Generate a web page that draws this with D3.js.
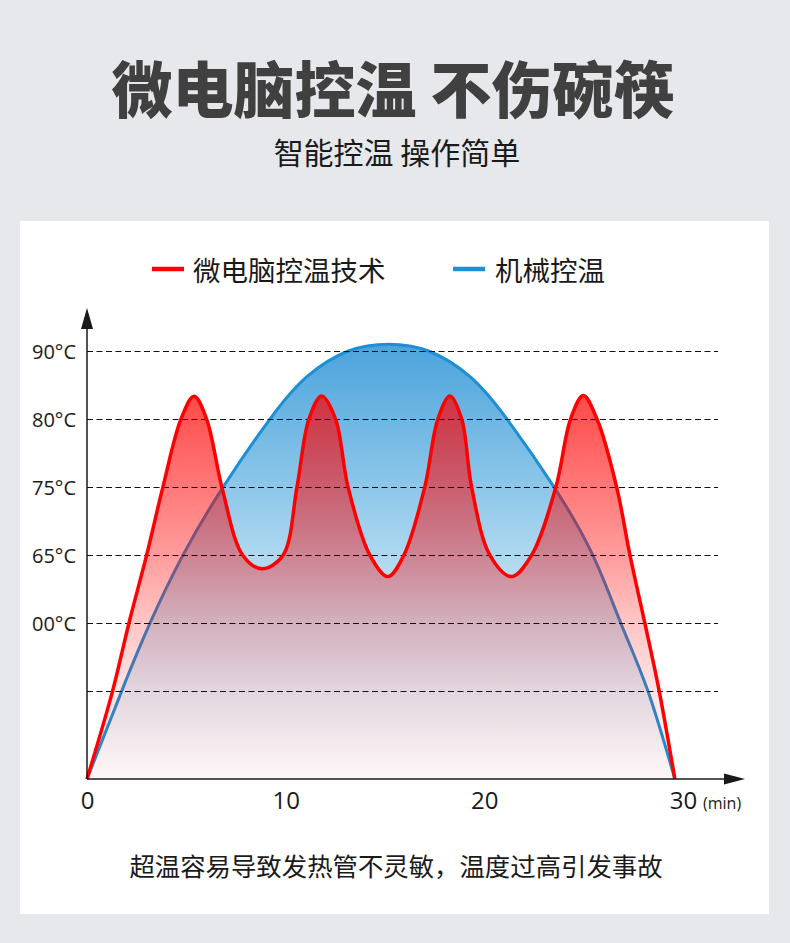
<!DOCTYPE html>
<html>
<head>
<meta charset="utf-8">
<script src="https://cdn.jsdelivr.net/npm/d3@7"></script>
<style>
    html, body { margin: 0; padding: 0; background: #e6e8eb; }
    svg { display: block; }
</style>
</head>
<body>
<div id="plotRegi"></div>
<script>
/* Data */
const xTicks = [0, 10, 20, 30]
const gridValues = [100, 84.1, 68.2, 52.3, 36.4, 20.6]
const gridLabels = ["90°C", "80°C", "75°C", "65°C", "00°C", ""]

// 微电脑控温技术 (red)
const microTime = [0, 1.29, 2.11, 3.0, 3.82, 4.73, 5.39, 6.02, 6.79, 7.84, 8.81, 9.87, 10.57, 11.17, 11.81, 12.51, 13.14, 14.24, 15.15, 15.95, 17.0, 17.66, 18.27, 18.86, 19.36, 20.28, 21.37, 22.38, 23.6, 24.34, 24.98, 25.67, 26.66, 27.33, 28.08, 28.8, 29.59]
const microTemp = [0, 20.6, 36.4, 52.3, 68.2, 84.1, 89.4, 84.1, 68.2, 52.3, 49.1, 52.3, 68.2, 84.1, 89.5, 84.1, 68.2, 52.3, 47.3, 52.3, 68.2, 84.1, 89.5, 84.1, 68.2, 52.3, 47.3, 52.3, 68.2, 84.1, 89.6, 84.1, 68.2, 52.3, 36.4, 20.6, 0]

// 机械控温 (blue)
const mechTime = [0, 1.75, 3.17, 4.83, 6.85, 9.21, 11.07, 13.16, 15.18, 17.19, 19.28, 21.14, 23.51, 25.46, 26.87, 28.23, 29.59]
const mechTemp = [0, 20.6, 36.4, 52.3, 68.2, 84.1, 94.0, 100, 101.6, 100, 94.0, 84.1, 68.2, 52.3, 36.4, 20.6, 0]

const seriesNames = ["微电脑控温技术", "机械控温"]
const seriesColors = ["#ff0000", "#1e8fd5"]

const title = "微电脑控温 不伤碗筷"
const subtitle = "智能控温 操作简单"
const note = "超温容易导致发热管不灵敏，温度过高引发事故"

/* Setup */
const W = 790, H = 943
const cjk = "'Noto Sans CJK SC', 'Noto Sans', sans-serif"
const latin = "'Open Sans', 'Noto Sans', sans-serif"

const svg = d3.select("#plotRegi").append("svg")
    .attr("width", W)
    .attr("height", H)

svg.append("rect").attr("width", W).attr("height", H).attr("fill", "#e6e8eb")
svg.append("rect")
    .attr("x", 20).attr("y", 221)
    .attr("width", 749).attr("height", 693)
    .attr("fill", "#ffffff")

// Titles
svg.append("text")
    .attr("x", 393).attr("y", 86)
    .attr("text-anchor", "middle")
    .attr("dominant-baseline", "central")
    .style("font-family", cjk)
    .style("font-weight", 900)
    .style("font-size", "61px")
    .style("fill", "#404040")
    .text(title)

svg.append("text")
    .attr("x", 397).attr("y", 151)
    .attr("text-anchor", "middle")
    .attr("dominant-baseline", "central")
    .style("font-family", cjk)
    .style("font-size", "30px")
    .style("fill", "#1a1a1a")
    .text(subtitle)

// Scales
const scale_x = d3.scaleLinear().domain([0, 30]).range([87, 683])
const scale_y = d3.scaleLinear().domain([0, 100]).range([779, 351])

const micro = microTime.map((t, i) => ({ t: t, v: microTemp[i] }))
const mech = mechTime.map((t, i) => ({ t: t, v: mechTemp[i] }))

// Gradients
const defs = svg.append("defs")

const gBlue = defs.append("linearGradient")
    .attr("id", "gBlue")
    .attr("gradientUnits", "userSpaceOnUse")
    .attr("x1", 0).attr("x2", 0)
    .attr("y1", scale_y(102)).attr("y2", scale_y(0))
gBlue.append("stop").attr("offset", 0).attr("stop-color", "#4aa3dc")
gBlue.append("stop").attr("offset", 0.5).attr("stop-color", "#b0d9f0")
gBlue.append("stop").attr("offset", 1).attr("stop-color", "#ffffff")

const gRed = defs.append("linearGradient")
    .attr("id", "gRed")
    .attr("gradientUnits", "userSpaceOnUse")
    .attr("x1", 0).attr("x2", 0)
    .attr("y1", scale_y(90)).attr("y2", scale_y(0))
;[[0, 0.72], [0.43, 0.38], [0.59, 0.23], [0.77, 0.11], [1, 0.03]].forEach(s => {
    gRed.append("stop").attr("offset", s[0])
        .attr("stop-color", "#ff0000").attr("stop-opacity", s[1])
})

function makeArea(curve) {
    return d3.area()
        .x(d => scale_x(d.t))
        .y0(scale_y(0))
        .y1(d => scale_y(d.v))
        .curve(curve)
}
function makeLine(curve) {
    return d3.line()
        .x(d => scale_x(d.t))
        .y(d => scale_y(d.v))
        .curve(curve)
}
const redCurve = d3.curveCatmullRom.alpha(0.5)
const blueCurve = d3.curveNatural

// Blue area + line
svg.append("path").datum(mech).attr("d", makeArea(blueCurve)).attr("fill", "url(#gBlue)")
svg.append("path").datum(mech).attr("d", makeLine(blueCurve))
    .attr("fill", "none")
    .attr("stroke", seriesColors[1])
    .attr("stroke-width", 3)

// Red area
svg.append("path").datum(micro).attr("d", makeArea(redCurve)).attr("fill", "url(#gRed)")

// Grid
svg.append("g").selectAll("line")
    .data(gridValues)
    .enter()
    .append("line")
    .attr("x1", scale_x(0)).attr("x2", 718)
    .attr("y1", d => Math.round(scale_y(d)) + 0.5).attr("y2", d => Math.round(scale_y(d)) + 0.5)
    .attr("stroke", "#111")
    .attr("stroke-width", 1)
    .attr("stroke-dasharray", "6,3.5")

// Red line
svg.append("path").datum(micro).attr("d", makeLine(redCurve))
    .attr("fill", "none")
    .attr("stroke", seriesColors[0])
    .attr("stroke-width", 3.5)
    .attr("stroke-linejoin", "round")

// Axes
const axisY = svg.append("g")
    .attr("transform", "translate(" + (scale_x(0) - 11) + ",0)")
    .call(d3.axisLeft(scale_y).tickValues(gridValues).tickSize(0).tickPadding(0)
        .tickFormat((d, i) => gridLabels[i]))
axisY.select(".domain").remove()
axisY.selectAll("text")
    .attr("dy", "0.35em")
    .style("font-family", latin)
    .style("font-size", "20px")
    .style("fill", "#1a1a1a")

const axisX = svg.append("g")
    .attr("transform", "translate(0," + scale_y(0) + ")")
    .call(d3.axisBottom(scale_x).tickValues(xTicks).tickSize(0).tickPadding(0))
axisX.select(".domain").remove()
axisX.selectAll("text")
    .attr("y", 22)
    .attr("dy", "0.35em")
    .style("font-family", latin)
    .style("font-size", "24px")
    .style("fill", "#1a1a1a")

svg.append("text")
    .attr("x", 703).attr("y", 803)
    .attr("dominant-baseline", "central")
    .style("font-family", latin)
    .style("font-size", "16px")
    .style("fill", "#1a1a1a")
    .text("(min)")

svg.append("line")
    .attr("x1", scale_x(0)).attr("x2", scale_x(0))
    .attr("y1", scale_y(0)).attr("y2", 322)
    .attr("stroke", "#1a1a1a").attr("stroke-width", 1.5)
svg.append("path")
    .attr("d", "M87,308L81,329L93,329Z")
    .attr("fill", "#1a1a1a")

svg.append("line")
    .attr("x1", scale_x(0)).attr("x2", 730)
    .attr("y1", scale_y(0)).attr("y2", scale_y(0))
    .attr("stroke", "#1a1a1a").attr("stroke-width", 1.5)
svg.append("path")
    .attr("d", "M745,779L724,773.5L724,784.5Z")
    .attr("fill", "#1a1a1a")

// Legend
const legendX = [[152, 193], [453, 495]]
const legend = svg.append("g")
seriesNames.forEach((name, i) => {
    legend.append("line")
        .attr("x1", legendX[i][0]).attr("x2", legendX[i][0] + 32)
        .attr("y1", 269).attr("y2", 269)
        .attr("stroke", seriesColors[i])
        .attr("stroke-width", 4.5)
    legend.append("text")
        .attr("x", legendX[i][1]).attr("y", 269)
        .attr("dominant-baseline", "central")
        .style("font-family", cjk)
        .style("font-size", "27.5px")
        .style("fill", "#1a1a1a")
        .text(name)
})

// Note
svg.append("text")
    .attr("x", 396).attr("y", 865)
    .attr("text-anchor", "middle")
    .attr("dominant-baseline", "central")
    .style("font-family", cjk)
    .style("font-size", "25.4px")
    .style("fill", "#1a1a1a")
    .text(note)
</script>
</body>
</html>
